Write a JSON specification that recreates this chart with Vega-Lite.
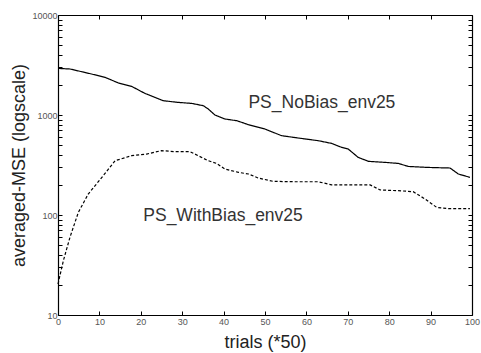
{
  "$schema": "https://vega.github.io/schema/vega-lite/v6.json",
  "width": 414,
  "height": 300,
  "autosize": {"type": "none"},
  "padding": {"left": 58, "top": 15, "right": 9, "bottom": 38},
  "background": "white",
  "config": {
    "view": {"stroke": null},
    "font": "Liberation Sans",
    "axis": {
      "grid": false,
      "domainColor": "black",
      "domainWidth": 1.2,
      "tickColor": "black",
      "tickSize": -4,
      "labelColor": "#555",
      "labelFontSize": 9,
      "labelPadding": 4,
      "titleFontSize": 18,
      "titleFontWeight": "normal",
      "titleColor": "#222",
      "labelFlush": false,
      "labelOverlap": false
    }
  },
  "datasets": {
    "series": [
      {"series": "NoBias", "trial": 0, "mse": 2924},
      {"series": "NoBias", "trial": 2.9, "mse": 2884},
      {"series": "NoBias", "trial": 5.7, "mse": 2710},
      {"series": "NoBias", "trial": 8.1, "mse": 2570},
      {"series": "NoBias", "trial": 11.4, "mse": 2377},
      {"series": "NoBias", "trial": 14.6, "mse": 2090},
      {"series": "NoBias", "trial": 17.8, "mse": 1933},
      {"series": "NoBias", "trial": 21, "mse": 1644},
      {"series": "NoBias", "trial": 23.4, "mse": 1500},
      {"series": "NoBias", "trial": 25.4, "mse": 1390},
      {"series": "NoBias", "trial": 29, "mse": 1337},
      {"series": "NoBias", "trial": 32.3, "mse": 1306},
      {"series": "NoBias", "trial": 35.1, "mse": 1239},
      {"series": "NoBias", "trial": 36.3, "mse": 1148},
      {"series": "NoBias", "trial": 37.9, "mse": 1000},
      {"series": "NoBias", "trial": 40.3, "mse": 912},
      {"series": "NoBias", "trial": 43.2, "mse": 877},
      {"series": "NoBias", "trial": 46, "mse": 800},
      {"series": "NoBias", "trial": 50, "mse": 724},
      {"series": "NoBias", "trial": 54, "mse": 621},
      {"series": "NoBias", "trial": 58, "mse": 589},
      {"series": "NoBias", "trial": 62.9, "mse": 553},
      {"series": "NoBias", "trial": 66.1, "mse": 520},
      {"series": "NoBias", "trial": 68.5, "mse": 475},
      {"series": "NoBias", "trial": 70.1, "mse": 457},
      {"series": "NoBias", "trial": 72.5, "mse": 377},
      {"series": "NoBias", "trial": 75, "mse": 344},
      {"series": "NoBias", "trial": 79, "mse": 336},
      {"series": "NoBias", "trial": 82.2, "mse": 328},
      {"series": "NoBias", "trial": 84.6, "mse": 306},
      {"series": "NoBias", "trial": 89.4, "mse": 299},
      {"series": "NoBias", "trial": 94.7, "mse": 295},
      {"series": "NoBias", "trial": 96.7, "mse": 257},
      {"series": "NoBias", "trial": 99.5, "mse": 238},
      {"series": "WithBias", "trial": 0, "mse": 20.4},
      {"series": "WithBias", "trial": 1.3, "mse": 35},
      {"series": "WithBias", "trial": 2.9, "mse": 60},
      {"series": "WithBias", "trial": 4.9, "mse": 106},
      {"series": "WithBias", "trial": 7.3, "mse": 162},
      {"series": "WithBias", "trial": 10.6, "mse": 238},
      {"series": "WithBias", "trial": 13.8, "mse": 349},
      {"series": "WithBias", "trial": 17.8, "mse": 392},
      {"series": "WithBias", "trial": 21.4, "mse": 407},
      {"series": "WithBias", "trial": 25, "mse": 440},
      {"series": "WithBias", "trial": 28.3, "mse": 430},
      {"series": "WithBias", "trial": 31.9, "mse": 430},
      {"series": "WithBias", "trial": 36.3, "mse": 349},
      {"series": "WithBias", "trial": 38.3, "mse": 328},
      {"series": "WithBias", "trial": 40.3, "mse": 288},
      {"series": "WithBias", "trial": 43.6, "mse": 267},
      {"series": "WithBias", "trial": 46, "mse": 257},
      {"series": "WithBias", "trial": 48.4, "mse": 234},
      {"series": "WithBias", "trial": 52, "mse": 217},
      {"series": "WithBias", "trial": 57.2, "mse": 215},
      {"series": "WithBias", "trial": 62.9, "mse": 215},
      {"series": "WithBias", "trial": 66.1, "mse": 200},
      {"series": "WithBias", "trial": 71.7, "mse": 200},
      {"series": "WithBias", "trial": 75.4, "mse": 200},
      {"series": "WithBias", "trial": 77.8, "mse": 178},
      {"series": "WithBias", "trial": 82.2, "mse": 175},
      {"series": "WithBias", "trial": 85.8, "mse": 171},
      {"series": "WithBias", "trial": 88.6, "mse": 145},
      {"series": "WithBias", "trial": 91.5, "mse": 119},
      {"series": "WithBias", "trial": 94.3, "mse": 116},
      {"series": "WithBias", "trial": 99.5, "mse": 116}
    ],
    "labels": [
      {"label": "PS_NoBias_env25", "trial": 46, "mse": 1327},
      {"label": "PS_WithBias_env25", "trial": 20.6, "mse": 98}
    ]
  },
  "layer": [
    {
      "data": {"name": "series"},
      "mark": {"type": "line", "color": "black", "strokeWidth": 1.2},
      "encoding": {
        "x": {
          "field": "trial", "type": "quantitative",
          "scale": {"domain": [0, 100], "nice": false},
          "axis": {"orient": "bottom", "title": "trials (*50)", "values": [0,10,20,30,40,50,60,70,80,90,100], "labelPadding": 6, "titlePadding": 7}
        },
        "y": {
          "field": "mse", "type": "quantitative",
          "scale": {"type": "log", "domain": [10, 10000], "nice": false},
          "axis": {
            "orient": "left", "title": "averaged-MSE (logscale)",
            "values": [10,20,30,40,50,60,70,80,90,100,200,300,400,500,600,700,800,900,1000,2000,3000,4000,5000,6000,7000,8000,9000,10000],
            "format": "d",
            "labelExpr": "(datum.value == 10 || datum.value == 100 || datum.value == 1000 || datum.value == 10000) ? datum.label : ''",
            "labelPadding": 5,
            "titlePadding": 3
          }
        },
        "strokeDash": {
          "field": "series", "type": "nominal",
          "scale": {"domain": ["NoBias", "WithBias"], "range": [[1, 0], [3, 2]]},
          "legend": null
        }
      }
    },
    {
      "data": {"name": "labels"},
      "mark": {"type": "text", "fontSize": 17.5, "color": "#333", "align": "left", "baseline": "middle"},
      "encoding": {
        "x": {
          "field": "trial", "type": "quantitative",
          "axis": {"orient": "top", "title": null, "labels": false, "values": [0,10,20,30,40,50,60,70,80,90,100]}
        },
        "y": {
          "field": "mse", "type": "quantitative",
          "axis": {
            "orient": "right", "title": null, "labels": false,
            "values": [10,20,30,40,50,60,70,80,90,100,200,300,400,500,600,700,800,900,1000,2000,3000,4000,5000,6000,7000,8000,9000,10000]
          }
        },
        "text": {"field": "label"}
      }
    }
  ],
  "resolve": {"axis": {"x": "independent", "y": "independent"}}
}
